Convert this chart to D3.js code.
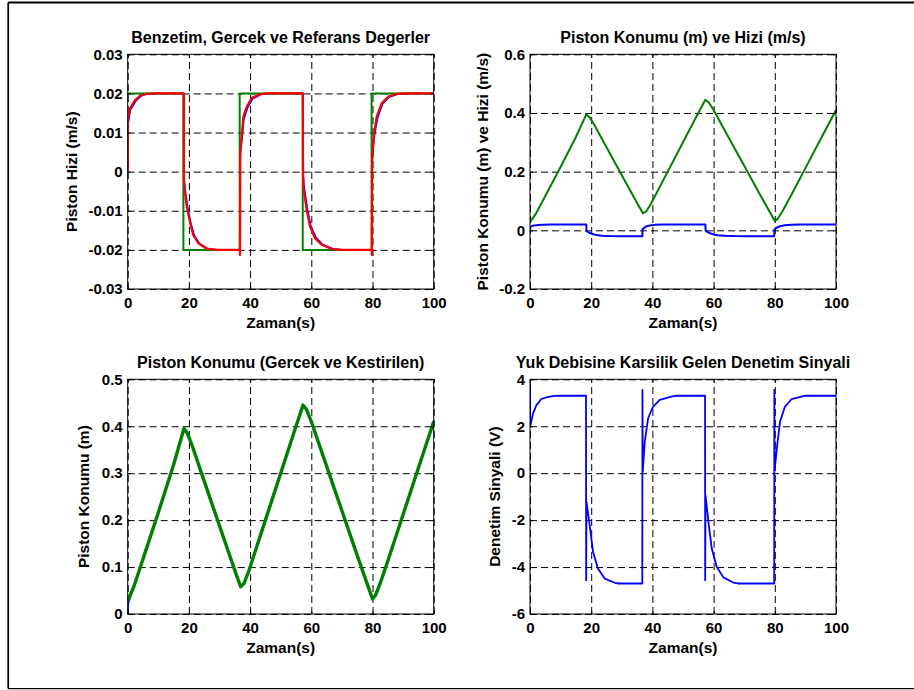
<!DOCTYPE html>
<html>
<head>
<meta charset="utf-8">
<script src="https://cdn.jsdelivr.net/npm/d3@7"></script>
<style>
	body { margin: 0; background: #fff; }
	text { font-family: "Liberation Sans", Arial, Helvetica, sans-serif; font-weight: bold; fill: #000; }
</style>
</head>
<body>
<div id="chart"></div>
<script>
// time ticks shared by every panel
var timeTicks = [0, 20, 40, 60, 80, 100];

// panel 1: reference, real and simulated piston speed (m/s)
var speedRef = [[0, 0.02], [18.2, 0.02], [18.2, -0.02], [36.6, -0.02], [36.6, 0.02],
	[57.2, 0.02], [57.2, -0.02], [79.7, -0.02], [79.7, 0.02], [100, 0.02]];

var speedReal = [[0, 0], [0.1, 0.012], [0.9, 0.0158], [2.6, 0.018], [4.3, 0.0193], [6.5, 0.0199],
	[9.5, 0.02], [18.4, 0.02], [18.45, -0.002], [18.8, -0.0045], [19.6, -0.0092], [20.7, -0.0133],
	[21.8, -0.0163], [23.5, -0.0184], [26.2, -0.0197], [30, -0.02], [36.7, -0.02], [36.8, 0.004],
	[38, 0.0135], [39.2, 0.0163], [40.8, 0.0186], [43.5, 0.0197], [47, 0.02], [57.3, 0.02],
	[57.4, -0.001], [57.7, -0.004], [58.8, -0.0098], [59.9, -0.014], [61.5, -0.0168], [63.7, -0.0186],
	[67, -0.0197], [71, -0.02], [79.8, -0.02], [79.9, 0.003], [80.7, 0.0095], [81.7, 0.0138],
	[83.3, 0.0173], [85.5, 0.0191], [88.2, 0.0198], [91.5, 0.02], [100, 0.02]];

var speedSim = [[0, 0], [0.05, 0.0132], [0.75, 0.0162], [2.4, 0.0183], [4, 0.0194], [6.2, 0.0199],
	[9, 0.02], [18.3, 0.02], [18.35, -0.0015], [18.6, -0.0047], [19.3, -0.009], [20.4, -0.0131],
	[21.4, -0.0162], [23.1, -0.0183], [25.8, -0.0197], [29, -0.02], [36.6, -0.02], [36.7, -0.0213],
	[36.8, 0.005], [37.8, 0.0141], [38.9, 0.0166], [40.5, 0.0188], [43.2, 0.0198], [46, 0.02],
	[57.2, 0.02], [57.3, -0.0004], [57.4, -0.0038], [58.5, -0.0098], [59.6, -0.0141], [61.2, -0.017],
	[63.4, -0.0187], [66.7, -0.0198], [70, -0.02], [79.7, -0.02], [79.8, -0.0213], [79.9, 0.004],
	[80.5, 0.0098], [81.4, 0.0141], [83, 0.0175], [85.2, 0.0192], [87.9, 0.0199], [91, 0.02], [100, 0.02]];
var speedTicks = [-0.03, -0.02, -0.01, 0, 0.01, 0.02, 0.03];

// panels 2 and 3: piston position (m)
var position = [[0, 0.028], [2, 0.058], [5, 0.117], [10, 0.216], [15, 0.318], [18.4, 0.395],
	[19.5, 0.385], [21, 0.36], [25, 0.283], [30, 0.188], [35, 0.093], [36.9, 0.058], [38, 0.065],
	[39.5, 0.09], [45, 0.2], [50, 0.3], [55, 0.4], [57.3, 0.445], [58.5, 0.435], [60, 0.41],
	[65, 0.315], [70, 0.22], [75, 0.125], [80, 0.032], [81, 0.04], [82.5, 0.065], [85, 0.113],
	[90, 0.212], [95, 0.311], [100, 0.41]];
var positionStart = [[0, 0], [0.2, 0.022]];
var posSpeedTicks = [-0.2, 0, 0.2, 0.4, 0.6];
var positionTicks = [0, 0.1, 0.2, 0.3, 0.4, 0.5];

// panel 4: control signal (V)
var control = [[0, 3.97], [0.05, 1.98], [1, 2.55], [2.1, 2.9], [3.7, 3.16], [5.9, 3.25], [8.1, 3.29],
	[10, 3.3], [18.3, 3.3], [18.35, -4.56], [18.45, -1.22], [19.5, -2.21], [20.6, -3.35], [22.2, -4.06],
	[24.4, -4.49], [27.7, -4.67], [29, -4.7], [36.7, -4.7], [36.75, 3.55], [36.85, 0.06], [37.5, 1.34],
	[38.6, 2.34], [40.2, 2.83], [42.4, 3.12], [46.2, 3.26], [48, 3.3], [57.2, 3.3], [57.25, -4.56],
	[57.35, -0.93], [58.3, -2.07], [59.4, -3.21], [61, -3.99], [63.2, -4.44], [66.4, -4.66], [68, -4.7],
	[79.8, -4.7], [79.85, 3.55], [79.95, 0.13], [80.8, 1.2], [81.7, 2.19], [83.3, 2.83], [85.5, 3.16],
	[88.7, 3.26], [90, 3.3], [100, 3.3]];
var controlTicks = [-6, -4, -2, 0, 2, 4];

var green = '#008000';

var panels = [
	{ x0: 127.7, x1: 433.7, y0: 54.3, y1: 289, yDomain: [-0.03, 0.03], yTicks: speedTicks,
		title: 'Benzetim, Gercek ve Referans Degerler', yLabel: 'Piston Hizi (m/s)', yLabelX: 71.7,
		lines: [
			{ data: speedReal, color: 'blue', width: 1.5 },
			{ data: speedRef, color: green, width: 2 },
			{ data: speedSim, color: 'red', width: 2.2 }
		] },
	{ x0: 530, x1: 836, y0: 54.3, y1: 289, yDomain: [-0.2, 0.6], yTicks: posSpeedTicks,
		title: 'Piston Konumu (m) ve Hizi (m/s)', yLabel: 'Piston Konumu (m) ve Hizi (m/s)', yLabelX: 482.7,
		lines: [
			{ data: position, color: green, width: 2 },
			{ data: speedReal, color: 'blue', width: 2 }
		] },
	{ x0: 127.7, x1: 433.7, y0: 379.3, y1: 614, yDomain: [0, 0.5], yTicks: positionTicks,
		title: 'Piston Konumu (Gercek ve Kestirilen)', yLabel: 'Piston Konumu (m)', yLabelX: 84,
		lines: [
			{ data: positionStart.concat(position.slice(1)), color: 'blue', width: 1.5 },
			{ data: position, color: green, width: 3.4 }
		] },
	{ x0: 530, x1: 836, y0: 379.3, y1: 614, yDomain: [-6, 4], yTicks: controlTicks,
		title: 'Yuk Debisine Karsilik Gelen Denetim Sinyali', yLabel: 'Denetim Sinyali (V)', yLabelX: 495,
		lines: [
			{ data: control, color: 'blue', width: 1.8 }
		] }
];

var svg = d3.select('#chart')
	.append('svg')
	.attr('width', 914)
	.attr('height', 690);

svg.append('rect').attr('width', 914).attr('height', 690).attr('fill', '#fff');

// figure frame
svg.append('line').attr('x1', 8.2).attr('y1', 2.5).attr('x2', 914).attr('y2', 2.5)
	.attr('stroke', '#000').attr('stroke-width', 2);
svg.append('line').attr('x1', 8.2).attr('y1', 2.5).attr('x2', 8.2).attr('y2', 688.6)
	.attr('stroke', '#000').attr('stroke-width', 1.7);
svg.append('line').attr('x1', 8.2).attr('y1', 688.6).attr('x2', 914).attr('y2', 688.6)
	.attr('stroke', '#000').attr('stroke-width', 1.2);

panels.forEach(function (p, i) {
	var w = p.x1 - p.x0;
	var h = p.y1 - p.y0;

	var x = d3.scaleLinear().domain([0, 100]).range([0, w]);
	var y = d3.scaleLinear().domain(p.yDomain).range([h, 0]);

	var g = svg.append('g').attr('transform', 'translate(' + p.x0 + ',' + p.y0 + ')');

	g.append('clipPath').attr('id', 'clip' + i)
		.append('rect').attr('width', w).attr('height', h);

	// dashed grid
	var gx = g.append('g').attr('transform', 'translate(0,' + h + ')')
		.call(d3.axisBottom(x).tickValues(timeTicks).tickSize(-h).tickFormat(''));
	var gy = g.append('g')
		.call(d3.axisLeft(y).tickValues(p.yTicks).tickSize(-w).tickFormat(''));
	[gx, gy].forEach(function (a) {
		a.select('.domain').remove();
		a.selectAll('line').attr('stroke', '#000').attr('stroke-width', 1)
			.style('stroke-dasharray', ('7, 4'));
	});

	// data lines
	var line = d3.line()
		.x(function (d) { return x(d[0]); })
		.y(function (d) { return y(d[1]); });

	var plot = g.append('g').attr('clip-path', 'url(#clip' + i + ')');
	p.lines.forEach(function (l) {
		plot.append('path')
			.datum(l.data)
			.attr('d', line)
			.attr('fill', 'none')
			.attr('stroke', l.color)
			.attr('stroke-width', l.width)
			.attr('stroke-linejoin', 'round');
	});

	// axes with inward ticks
	var ax = g.append('g').attr('transform', 'translate(0,' + h + ')')
		.call(d3.axisBottom(x).tickValues(timeTicks).tickSizeInner(-3).tickSizeOuter(0)
			.tickPadding(8).tickFormat(function (d) { return String(d); }));
	var ay = g.append('g')
		.call(d3.axisLeft(y).tickValues(p.yTicks).tickSizeInner(-3).tickSizeOuter(0)
			.tickPadding(5).tickFormat(function (d) { return String(d); }));
	var axTop = g.append('g')
		.call(d3.axisBottom(x).tickValues(timeTicks).tickSizeInner(3).tickSizeOuter(0).tickFormat(''));
	var ayRight = g.append('g').attr('transform', 'translate(' + w + ',0)')
		.call(d3.axisLeft(y).tickValues(p.yTicks).tickSizeInner(3).tickSizeOuter(0).tickFormat(''));
	[ax, ay, axTop, ayRight].forEach(function (a) {
		a.select('.domain').remove();
		a.selectAll('line').attr('stroke', '#000');
		a.selectAll('text').attr('fill', '#000').style('font-size', '15px')
			.style('font-family', '"Liberation Sans", Arial, sans-serif').style('font-weight', 'bold');
	});

	// box
	g.append('rect').attr('width', w).attr('height', h)
		.attr('fill', 'none').attr('stroke', '#000').attr('stroke-width', 1);

	// texts
	svg.append('text')
		.attr('x', p.x0 + w / 2).attr('y', p.y0 - 17).attr('dy', '0.35em')
		.attr('text-anchor', 'middle').style('font-size', '16px')
		.text(p.title);

	svg.append('text')
		.attr('x', p.x0 + w / 2).attr('y', p.y1 + 33.7).attr('dy', '0.35em')
		.attr('text-anchor', 'middle').style('font-size', '15.5px')
		.text('Zaman(s)');

	svg.append('text')
		.attr('transform', 'translate(' + p.yLabelX + ',' + (p.y0 + h / 2) + ') rotate(-90)')
		.attr('dy', '0.35em')
		.attr('text-anchor', 'middle').style('font-size', '15.5px')
		.text(p.yLabel);
});
</script>
</body>
</html>
